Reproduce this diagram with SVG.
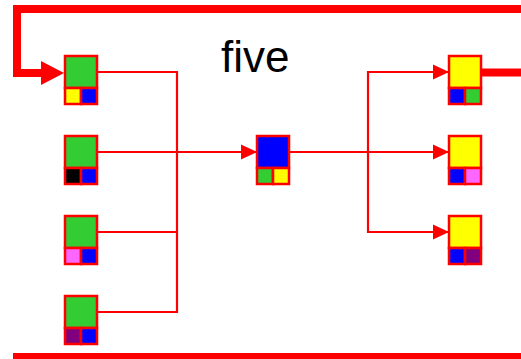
<svg xmlns="http://www.w3.org/2000/svg" width="521" height="359" viewBox="0 0 521 359">
<style>
.n rect{stroke:#FF0000;stroke-width:2.5}
.c{fill:none;stroke:#FF0000;stroke-width:2.2}
.t{fill:none;stroke:#FF0000;stroke-width:8;stroke-linejoin:miter}
.g{fill:#33CC33}.y{fill:#FFFF00}.b{fill:#0000FF}.k{fill:#000000}.p{fill:#FF66FF}.u{fill:#800080}
</style>
<defs>
<marker id="a" markerUnits="userSpaceOnUse" markerWidth="16" markerHeight="16" refX="16" refY="8" orient="auto"><path d="M0,0.5 L16,8 L0,15.5 Z" fill="#FF0000"/></marker>
<marker id="A" markerUnits="userSpaceOnUse" markerWidth="24" markerHeight="24" refX="0" refY="12" orient="auto"><path d="M0,0 L23,12 L0,24 Z" fill="#FF0000"/></marker>
</defs>
<g id="connectors">
<path class="t" d="M521,9 L17,9 L17,73 L41,73" marker-end="url(#A)"/>
<path class="t" d="M481,72.5 L521,72.5"/>
<path class="t" d="M13,357 L521,357"/>
<path class="c" d="M97,72 L177,72 L177,312 L97,312"/>
<path class="c" d="M97,232 L177,232"/>
<path class="c" d="M97,152 L257,152" marker-end="url(#a)"/>
<path class="c" d="M289,152 L449,152" marker-end="url(#a)"/>
<path class="c" d="M449,72 L368,72 L368,232 L449,232" marker-end="url(#a)"/>
<path class="c" d="M368,72 L449,72" marker-end="url(#a)"/>
</g>
<text x="221" y="72" font-family="Liberation Sans, Arial, sans-serif" font-size="44" fill="#000000">five</text>
<g id="n1" class="n"><rect x="65" y="56" width="32" height="32" class="g"/><rect x="65" y="88" width="16" height="16" class="y"/><rect x="81" y="88" width="16" height="16" class="b"/></g>
<g id="n2" class="n"><rect x="65" y="136" width="32" height="32" class="g"/><rect x="65" y="168" width="16" height="16" class="k"/><rect x="81" y="168" width="16" height="16" class="b"/></g>
<g id="n3" class="n"><rect x="65" y="216" width="32" height="32" class="g"/><rect x="65" y="248" width="16" height="16" class="p"/><rect x="81" y="248" width="16" height="16" class="b"/></g>
<g id="n4" class="n"><rect x="65" y="296" width="32" height="32" class="g"/><rect x="65" y="328" width="16" height="16" class="u"/><rect x="81" y="328" width="16" height="16" class="b"/></g>
<g id="c1" class="n"><rect x="257" y="136" width="32" height="32" class="b"/><rect x="257" y="168" width="16" height="16" class="g"/><rect x="273" y="168" width="16" height="16" class="y"/></g>
<g id="r1" class="n"><rect x="449" y="56" width="32" height="32" class="y"/><rect x="449" y="88" width="16" height="16" class="b"/><rect x="465" y="88" width="16" height="16" class="g"/></g>
<g id="r2" class="n"><rect x="449" y="136" width="32" height="32" class="y"/><rect x="449" y="168" width="16" height="16" class="b"/><rect x="465" y="168" width="16" height="16" class="p"/></g>
<g id="r3" class="n"><rect x="449" y="216" width="32" height="32" class="y"/><rect x="449" y="248" width="16" height="16" class="b"/><rect x="465" y="248" width="16" height="16" class="u"/></g>
</svg>
